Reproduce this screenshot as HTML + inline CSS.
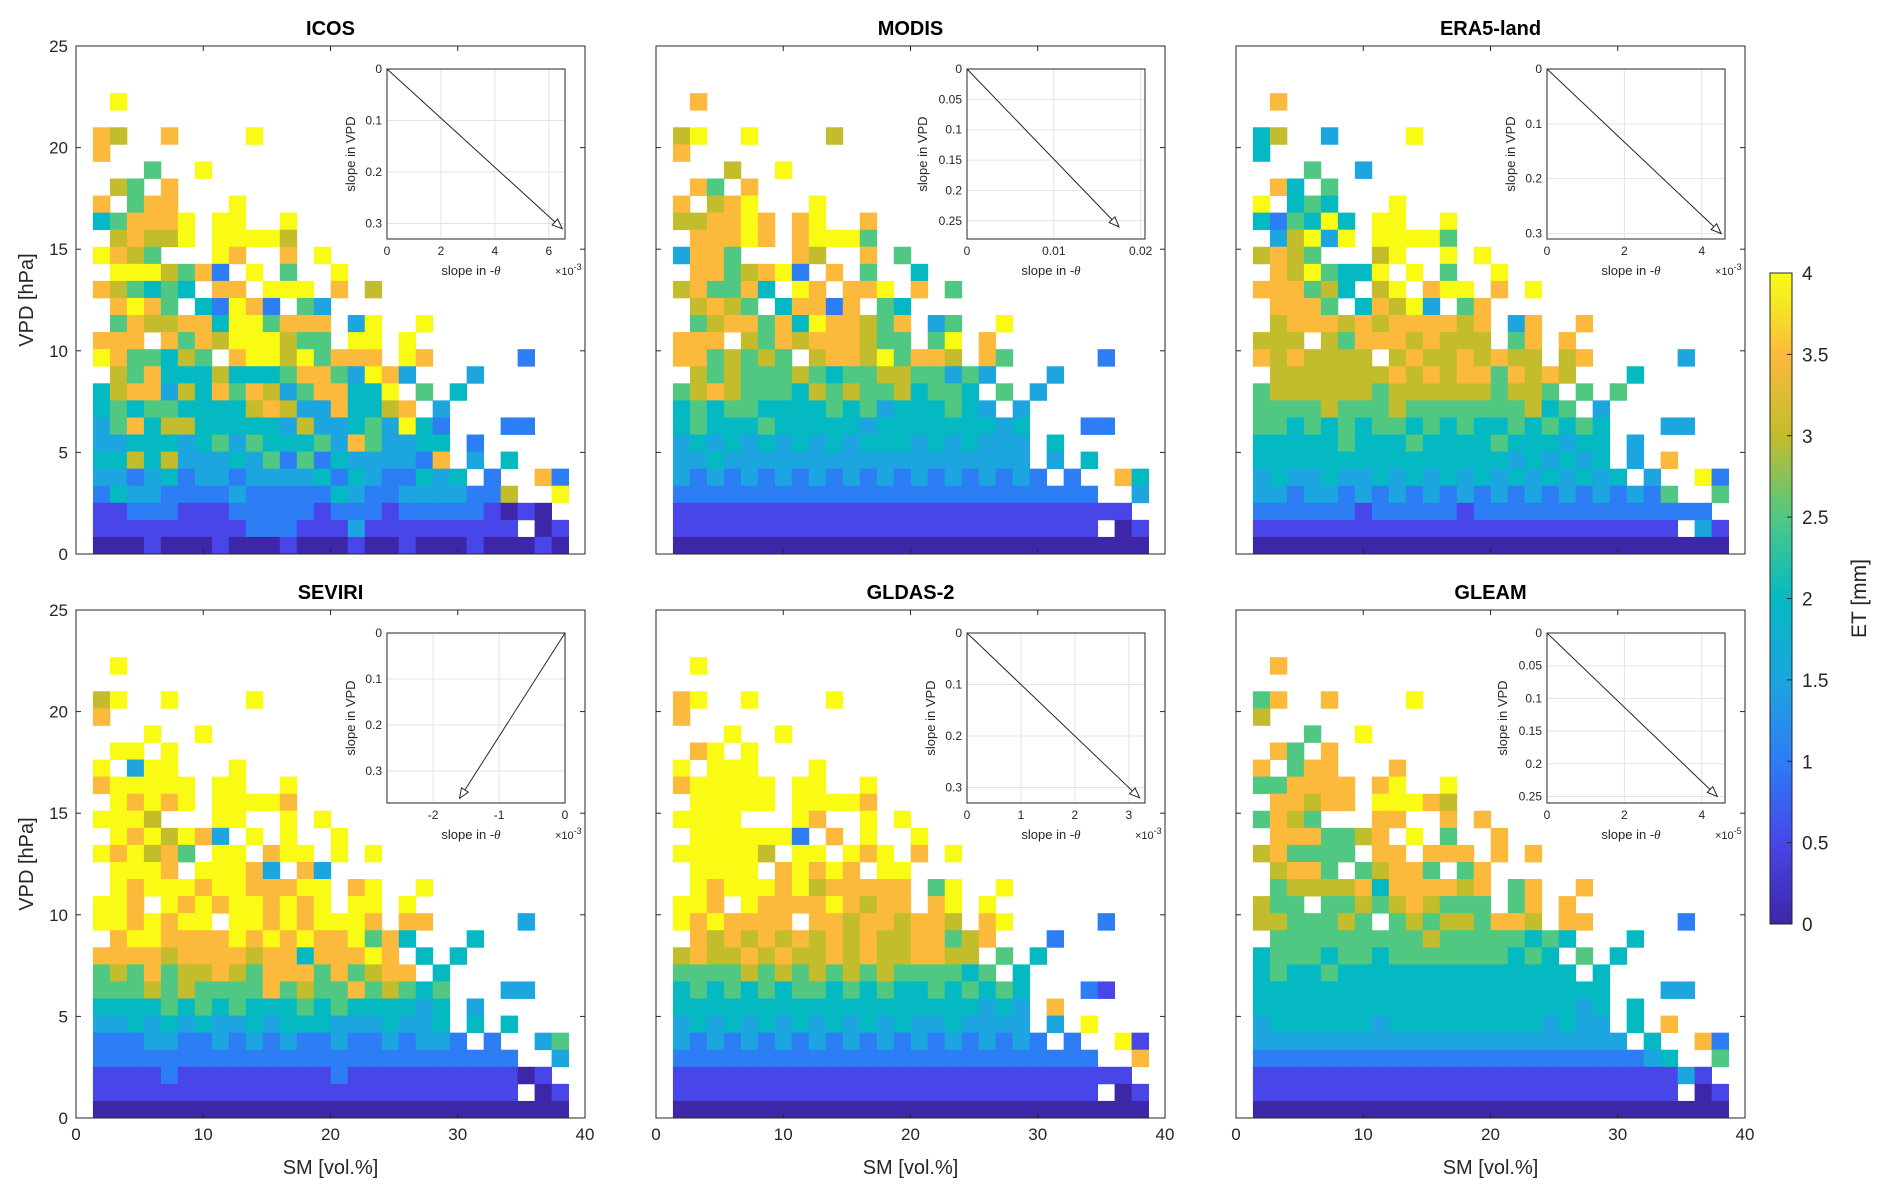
<!DOCTYPE html>
<html><head><meta charset="utf-8"><style>
html,body{margin:0;padding:0;background:#fff;}
svg{display:block;font-family:"Liberation Sans",Arial,sans-serif;}
</style></head><body>
<svg id="fig" width="1892" height="1199" viewBox="0 0 1892 1199" xmlns="http://www.w3.org/2000/svg"></svg>
<script>
// ---------- data ----------
const panelNames = ["ICOS","MODIS","ERA5-land","SEVIRI","GLDAS-2","GLEAM"];
const xTicks = [0,10,20,30,40];
const yTicks = [0,5,10,15,20,25];
const cbTicks = [0,0.5,1,1.5,2,2.5,3,3.5,4];
// rows from top (VPD bin 26) to bottom (bin 0); digit d => ET = d*0.5 mm, '.' = no data
const icosRows = [
".8","","76..7....8","7","...5..8",".65.7","7.577...8","457778.88..8",".67668.88886","8765...87..7.8",
".8886572.8.5..8","765454.77.888.7.6",".7875.42872.53",".5766774885777.38..8","777.7576888655.88.8",
"8755465.788685777.87.....2..",".657444644457753873...3.....","467736475763577448.5.4......",
"4545544446763374467.3.......","357466444443633453842...22..","334443453544453753344.2.....",
"446463334352524333327.3.4...","3323423323333424322434.2..72","2433222232222243223333226..8",
"112221112222212221222221010.","1111111112221113111111111.01","0001000100010001001000100010"];
const modisRows = [
".7","","68..8....6","7","...6..8",".75.7","7.678...8","667787.78..7",".77787.78885","3775...76..7.5",
".7756782.7.5..4","675574.87.778.7.5",".6765.47727.54",".5677574877657.35..8","777.6576777655.58.7",
"7756565.677685776.75.....2..",".656555654556655353...3.....","567655546565564554.5.3......",
"4545544445453444543.3.......","454445444443444444434...22..","343434343434443434333.4.....",
"334333333333333333333.3.4...","3232323232323232323232.2..74","2222222222222222222222222..3",
"111111111111111111111111111.","1111111111111111111111111.01","0000000000000000000000000000"];
const era5Rows = [
".7","","46..3....8","4","...5..3",".74.5","8.454...8","425484.88..8",".36838.88885","6765...68..8.8",
".7685448.8.5..8","777564.68.788.7.8",".7775.47683.57",".6777676777767.37..7","666.6577767666.57.7",
"7676666.676676766.67.....3..",".666666676767757676...4.....","566666656666665665.5.5......",
"5555655565555555645.3.......","554545455454544545454...33..","444445444544445444344.3.....",
"444444444444444343434.3.7...","3433433434343434343434.3..82","3323323232323232323232325..5",
"222222122222122222222222222.","1111111111111111111111111.31","0000000000000000000000000000"];
const seviriRows = [
".8","","68..8....8","7","...8..8",".88.8","8.388...8","788888.88..8",".87878.88887","8886...88..8.8",
".8786873.8.8..8","878675.88.788.8.8",".8887.88873.73",".8788878877788.78..8","887.8787887878.88.8",
"8878788.887878887.77.....3..",".788777787878778574...4.....","777767777677477787.4.4......",
"5657566765777575677.4.......","555656555575655756545...33..","444454545444545444434.3.....",
"334343433434443334334.4.4...","2223322323232232232332.2..35","2222222222222222222222222..3",
"111121111111112111111111101.","1111111111111111111111111.01","0000000000000000000000000000"];
const gldasRows = [
".8","","78..8....8","7","...8..8",".78.8","8.888...8","788888.88..8",".88888.88887","8888...87..8.8",
".8888882.7.8..8","888886.88.878.7.8",".8888.78787.88",".8788878677777.58..8","887.8777787677.78.8",
"8787777.776776776.78.....2..",".767676767676677567...2.....","676676766767667766.5.4......",
"5555656565656555545.4.......","454545455454544545454...21..","444444444444444444343.7.....",
"343434343434343343333.3.8...","3232323232323232323232.2..81","2222222222222222222222222..7",
"111111111111111111111111111.","1111111111111111111111111.01","0000000000000000000000000000"];
const gleamRows = [
".7","","57..7....8","6","...5..8",".75.7","7.577...7","557777.78..8",".77677.88876","5765...77..7.7",
".7775567.8.5..7","675555.77.777.7.7",".6775.56775.57",".5666674777767.57..7","655.5565676555.57.7",
"6655565.565665776.77.....2..",".555555555655555454...4.....","455545545555555454.5.4......",
"4544544444444444444.4.......","444444444444444444444...33..","444444444444444444434.4.....",
"344444434444444443433.4.7...","3333333333333333333333.4..72","2222222222222222222222234..5",
"111111111111111111111111131.","1111111111111111111111111.01","0000000000000000000000000000"];
const panelRows = [icosRows, modisRows, era5Rows, seviriRows, gldasRows, gleamRows];
// inset slope arrows: end point (x in units of multiplier, y slope)
const insetArrowX = [6.5, 0.0175, 4.5, -1.6, 3.2, 4.4];
const insetArrowY = [0.31, 0.26, 0.30, 0.36, 0.32, 0.25];
const insetXMin = [0, 0, 0, -2.7, 0, 0];
const insetXMax = [6.6, 0.0205, 4.6, 0, 3.3, 4.6];
const insetYMax = [0.33, 0.28, 0.31, 0.37, 0.33, 0.26];
const insetXTicks = [[0,2,4,6],[0,0.01,0.02],[0,2,4],[-2,-1,0],[0,1,2,3],[0,2,4]];
const insetYTicks = [[0,0.1,0.2,0.3],[0,0.05,0.1,0.15,0.2,0.25],[0,0.1,0.2,0.3],[0,0.1,0.2,0.3],[0,0.1,0.2,0.3],[0,0.05,0.1,0.15,0.2,0.25]];
const insetMult = ["-3","","-3","-3","-3","-5"];

// ---------- helpers ----------
const NS="http://www.w3.org/2000/svg";
const svg=document.getElementById('fig');
function mk(tag,attrs,parent){const e=document.createElementNS(NS,tag);for(const k in attrs)e.setAttribute(k,attrs[k]);(parent||svg).appendChild(e);return e;}
const par=[[0,62,38,168],[0.125,72,70,232],[0.25,45,125,245],[0.375,28,165,222],[0.5,5,185,195],[0.625,80,200,130],[0.75,195,188,45],[0.875,252,186,60],[0.95,245,230,35],[1,249,251,20]];
function parula(t){t=Math.max(0,Math.min(1,t));for(let i=1;i<par.length;i++){if(t<=par[i][0]){const a=par[i-1],b=par[i],f=(t-a[0])/(b[0]-a[0]);return `rgb(${Math.round(a[1]+f*(b[1]-a[1]))},${Math.round(a[2]+f*(b[2]-a[2]))},${Math.round(a[3]+f*(b[3]-a[3]))})`;}}return 'rgb(249,251,20)';}

const colX=[76,656,1236], rowY=[46,610], PW=509, PH=508;
const xBin0=1.33, xBinW=1.335, yBinW=0.84;
const fmt=v=>String(v);

panelNames.forEach((name,p)=>{
  const L=colX[p%3], T=rowY[Math.floor(p/3)], B=T+PH, R=L+PW;
  const xs=v=>L+v/40*PW, ys=v=>B-v/25*PH;
  const g=mk('g',{});
  
  
  const t=mk('text',{x:(L+R)/2,y:T-11,'text-anchor':'middle','font-size':20,'font-weight':'bold',fill:'#000'},g);
  t.textContent=name;
  
  
  const rows=panelRows[p];
  const nR=rows.length;
  rows.forEach((s,ri)=>{
    const bin=nR-1-ri;
    s.padEnd(28,'.').split('').forEach((ch,c)=>{
      if(ch==='.')return;
      const et=parseInt(ch)*0.5;
      const x0=xs(xBin0+c*xBinW), x1=xs(xBin0+(c+1)*xBinW);
      const y1=ys(bin*yBinW), y0=ys((bin+1)*yBinW);
      const r=mk('rect',{x:x0,y:y0,width:x1-x0+0.4,height:y1-y0+0.4,fill:parula(et/4)},g);
      
      
    });
  });
  const box=mk('rect',{x:L,y:T,width:PW,height:PH,fill:'none',stroke:'#262626','stroke-width':1},g);
  
  
  yTicks.forEach(v=>{
    mk('line',{x1:L,x2:L+5,y1:ys(v),y2:ys(v),stroke:'#262626'},g);
    mk('line',{x1:R,x2:R-5,y1:ys(v),y2:ys(v),stroke:'#262626'},g);
    if(p%3===0){const tl=mk('text',{x:L-8,y:ys(v)+6,'text-anchor':'end','font-size':17,fill:'#262626'},g);tl.textContent=fmt(v);
      
      }
  });
  xTicks.forEach(v=>{
    mk('line',{x1:xs(v),x2:xs(v),y1:B,y2:B-5,stroke:'#262626'},g);
    mk('line',{x1:xs(v),x2:xs(v),y1:T,y2:T+5,stroke:'#262626'},g);
    if(p>=3){const tl=mk('text',{x:xs(v),y:B+22,'text-anchor':'middle','font-size':17,fill:'#262626'},g);tl.textContent=fmt(v);
      
      }
  });
  if(p%3===0){const yl=mk('text',{x:0,y:0,'text-anchor':'middle','font-size':20,fill:'#262626',transform:`translate(33,${(T+B)/2}) rotate(-90)`},g);yl.textContent='VPD [hPa]';
    
    }
  if(p>=3){const xl=mk('text',{x:(L+R)/2,y:B+56,'text-anchor':'middle','font-size':20,fill:'#262626'},g);xl.textContent='SM [vol.%]';
    
    }
  const iL=L+311, iT=T+23, iW=178, iH=170, iR=iL+iW, iB=iT+iH;
  const ig=mk('g',{},g);
  
  
  mk('rect',{x:iL,y:iT,width:iW,height:iH,fill:'#fff',stroke:'#262626','stroke-width':1},ig);
  const ixs=v=>iL+(v-insetXMin[p])/(insetXMax[p]-insetXMin[p])*iW;
  const iys=v=>iT+v/insetYMax[p]*iH;
  insetXTicks[p].forEach(v=>{
    mk('line',{x1:ixs(v),x2:ixs(v),y1:iT,y2:iB,stroke:'#e3e3e3'},ig);
    const tl=mk('text',{x:ixs(v),y:iB+16,'text-anchor':'middle','font-size':12,fill:'#262626'},ig);tl.textContent=fmt(v);
    
    
  });
  insetYTicks[p].forEach(v=>{
    mk('line',{x1:iL,x2:iR,y1:iys(v),y2:iys(v),stroke:'#e3e3e3'},ig);
    const tl=mk('text',{x:iL-5,y:iys(v)+4,'text-anchor':'end','font-size':12,fill:'#262626'},ig);tl.textContent=fmt(v);
    
    
  });
  mk('rect',{x:iL,y:iT,width:iW,height:iH,fill:'none',stroke:'#262626','stroke-width':1},ig);
  const ax0=ixs(0), ay0=iys(0), ax1=ixs(insetArrowX[p]), ay1=iys(insetArrowY[p]);
  const ang=Math.atan2(ay1-ay0,ax1-ax0), hl=10, hw=4;
  const bx=ax1-hl*Math.cos(ang), by=ay1-hl*Math.sin(ang);
  const ar=mk('line',{x1:ax0,y1:ay0,x2:bx,y2:by,stroke:'#262626','stroke-width':1},ig);
  
  
  mk('polygon',{points:`${ax1},${ay1} ${bx+hw*Math.sin(ang)},${by-hw*Math.cos(ang)} ${bx-hw*Math.sin(ang)},${by+hw*Math.cos(ang)}`,fill:'#fff',stroke:'#262626'},ig);
  const ixl=mk('text',{x:(iL+iR)/2-5,y:iB+36,'text-anchor':'middle','font-size':13,fill:'#262626'},ig);
  ixl.innerHTML='slope in -<tspan font-style="italic" font-family="Liberation Serif">θ</tspan>';
  
  
  if(insetMult[p]){const m=mk('text',{x:iR-10,y:iB+36,'font-size':11,fill:'#262626'},ig);
    m.innerHTML='×10<tspan dy="-5" font-size="9">'+insetMult[p]+'</tspan>';
    
    }
  const iyl=mk('text',{x:0,y:0,'text-anchor':'middle','font-size':13,fill:'#262626',transform:`translate(${iL-(p===1||p===5?40:32)},${(iT+iB)/2}) rotate(-90)`},ig);
  iyl.textContent='slope in VPD';
  
  
});

// colorbar
const cbL=1770, cbT=273, cbW=22, cbH=651;
const defs=mk('defs',{});
const grad=mk('linearGradient',{id:'cbg',x1:0,y1:1,x2:0,y2:0},defs);
par.forEach(s=>mk('stop',{offset:s[0],'stop-color':`rgb(${s[1]},${s[2]},${s[3]})`},grad));
const cbg=mk('g',{});


mk('rect',{x:cbL,y:cbT,width:cbW,height:cbH,fill:'url(#cbg)',stroke:'#262626','stroke-width':1},cbg);
const cys=v=>cbT+cbH-v/4*cbH;
cbTicks.forEach(v=>{
  mk('line',{x1:cbL+cbW-5,x2:cbL+cbW,y1:cys(v),y2:cys(v),stroke:'#262626'},cbg);
  const tl=mk('text',{x:cbL+cbW+10,y:cys(v)+7,'font-size':19,fill:'#262626'},cbg);tl.textContent=fmt(v);
  
  
});
const cl=mk('text',{x:0,y:0,'text-anchor':'middle','font-size':21,fill:'#262626',transform:`translate(1866,${cbT+cbH/2}) rotate(-90)`},cbg);
cl.textContent='ET [mm]';


</script>
</body></html>
